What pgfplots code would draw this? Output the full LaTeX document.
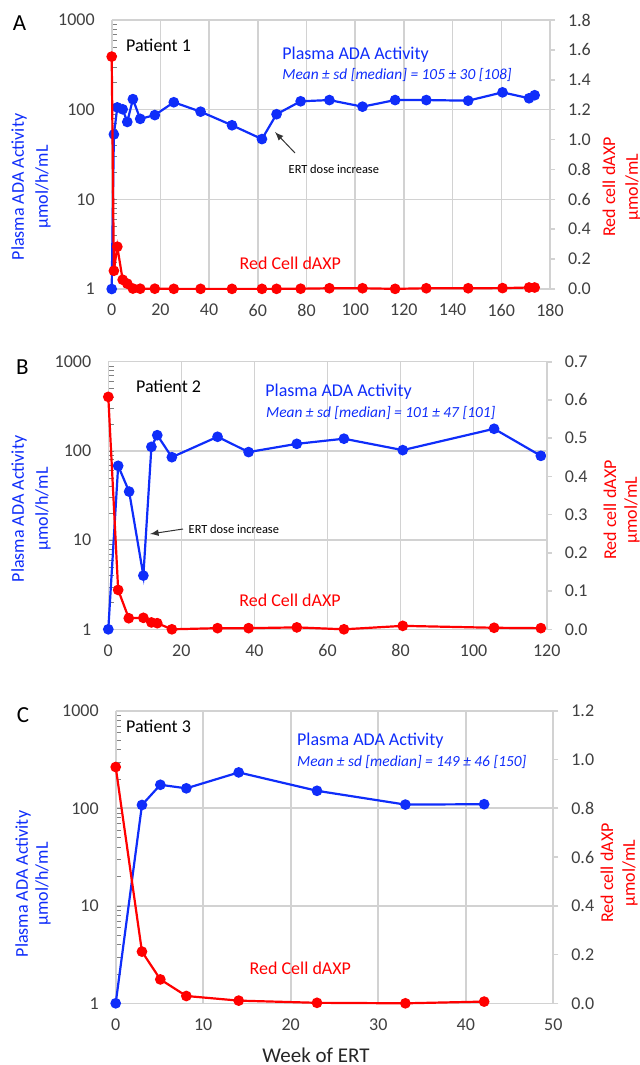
\documentclass[border=0pt]{standalone}
\usepackage{pgfplots}
\pgfplotsset{compat=1.18}
\usepackage{fontspec}
\setmainfont{Carlito}
\definecolor{adablue}{RGB}{15,45,250}
\definecolor{dred}{RGB}{255,0,0}
\definecolor{gridgray}{RGB}{210,210,210}
\definecolor{ticktext}{RGB}{64,64,64}

\pgfkeys{/pgf/number format/assume math mode=true}
\pgfplotsset{
  myCommon/.style={
    scale only axis, clip=false,
    tick label style={text=ticktext, font=\fontsize{9}{11}\selectfont},
  },
  myLeft/.style={myCommon,
    ymin=1, ymax=1000,
    ytick={1,10,100,1000}, yticklabels={1,10,100,1000},
    xmajorgrids, ymajorgrids,
    major grid style={gridgray, line width=0.8pt},
    axis x line*=bottom, axis y line*=left,
    axis line style={gridgray, line width=0.8pt, -},
    major tick length=0pt,
    xticklabel style={yshift=-4pt}, yticklabel style={xshift=-5pt},
  },
  myRight/.style={myCommon,
    axis y line*=right, axis x line=none, xtick=\empty,
    axis line style={gridgray, line width=0.8pt, -},
    ytick style={gridgray, line width=0.8pt},
    tick align=outside, major tick length=2.5pt,
    yticklabel style={xshift=3pt},
    y tick label style={/pgf/number format/.cd, fixed, fixed zerofill, precision=1},
  },
  myBlue/.style={adablue, line width=1.1pt, mark=*, mark size=2.1pt, mark options={solid, fill=adablue, draw=adablue}},
  myRed/.style={dred, line width=1.1pt, mark=*, mark size=2.1pt, mark options={solid, fill=dred, draw=dred}},
}

\begin{document}
\begin{tikzpicture}
\path[use as bounding box] (0,0) rectangle (320pt,-532.5pt);

% ---------- Panel A
\begin{axis}[ymode=log, myLeft, anchor=south west, at={(55.85pt,-144.5pt)}, width=219.15pt, height=134.5pt,
  xmin=0, xmax=180, xtick={0,20,...,180}]
\addplot[myBlue] coordinates {(0,1) (0.9,53) (2.3,106) (4.5,101) (6.4,73) (8.7,131) (11.7,79) (17.7,87) (25.5,121) (36.5,95) (49.4,67) (61.7,47) (67.7,89) (77.6,124) (89.4,128) (103,108) (116.4,128) (129.2,128) (146.4,126) (160.5,156) (171.4,134) (173.7,145)};
\end{axis}
\begin{axis}[myRight, anchor=south west, at={(55.85pt,-144.5pt)}, width=219.15pt, height=134.5pt,
  xmin=0, xmax=180, ymin=0, ymax=1.8, ytick={0,0.2,0.4,0.6,0.8,1.0,1.2,1.4,1.6,1.8}]
\addplot[myRed] coordinates {(0,1.555) (0.9,0.122) (2.3,0.283) (4.5,0.062) (6.4,0.036) (8.7,0.003) (11.7,0.002) (17.7,0.002) (25.5,0.001) (36.5,0.001) (49.4,0.001) (61.7,0.001) (67.7,0.001) (77.6,0.002) (89.4,0.005) (103,0.005) (116.4,0.001) (129.2,0.005) (146.4,0.005) (160.5,0.006) (171.4,0.01) (173.7,0.01)};
\end{axis}

% ---------- Panel B
\begin{axis}[ymode=log, myLeft, anchor=south west, at={(54.15pt,-314.65pt)}, width=219.2pt, height=133.8pt,
  xmin=0, xmax=120, xtick={0,20,...,120}]
\addplot[myBlue] coordinates {(0,1) (2.7,68) (5.7,35) (9.6,4.0) (11.8,111) (13.4,150) (17.4,85) (29.9,144) (38.4,97) (51.6,120) (64.5,137) (80.6,102) (105.6,177) (118.4,88)};
\end{axis}
\begin{axis}[myRight, anchor=south west, at={(54.15pt,-314.65pt)}, width=219.2pt, height=133.8pt,
  xmin=0, xmax=120, ymin=0, ymax=0.7, ytick={0,0.1,0.2,0.3,0.4,0.5,0.6,0.7}]
\addplot[myRed] coordinates {(0,0.608) (2.7,0.103) (5.6,0.029) (9.6,0.030) (11.8,0.018) (13.4,0.016) (17.4,0.0) (29.9,0.003) (38.4,0.003) (51.6,0.005) (64.5,0.0) (80.6,0.009) (105.6,0.004) (118.4,0.003)};
\end{axis}

% ---------- Panel C
\begin{axis}[ymode=log, myLeft, anchor=south west, at={(57.85pt,-501.65pt)}, width=218.8pt, height=146.3pt,
  xmin=0, xmax=50, xtick={0,10,...,50}]
\addplot[myBlue] coordinates {(0,1) (3,108) (5.1,174) (8.07,160) (14.05,233) (23,151) (33.1,109) (42.1,110)};
\end{axis}
\begin{axis}[myRight, anchor=south west, at={(57.85pt,-501.65pt)}, width=218.8pt, height=146.3pt,
  xmin=0, xmax=50, ymin=0, ymax=1.2, ytick={0,0.2,0.4,0.6,0.8,1.0,1.2}]
\addplot[myRed] coordinates {(0,0.969) (3,0.212) (5.1,0.098) (8.07,0.030) (14.05,0.011) (23,0.002) (33.1,0.0) (42.1,0.007)};
\end{axis}

% ---------- text, in pixel units of the reference
\begin{scope}[x=0.5pt, y=-0.5pt]
\tikzset{
  big/.style={font=\fontsize{11.5}{13}\selectfont},
  nine/.style={font=\fontsize{9}{11}\selectfont, inner sep=0pt},
  mean/.style={font=\fontsize{7.7}{9}\selectfont\itshape, text=adablue, anchor=west, inner sep=0pt},
  small/.style={font=\fontsize{6.2}{7}\selectfont, inner sep=0pt},
}
% panel letters
\node[big] at (19.5,23.3) {A};
\node[big] at (22.5,366.7) {B};
\node[big] at (23,715) {C};
% patients
\node[nine, anchor=west] at (125.7,45) {Patient 1};
\node[nine, anchor=west] at (135.7,386) {Patient 2};
\node[nine, anchor=west] at (125.7,726.7) {Patient 3};
% plasma ADA titles
\node[nine, anchor=west, text=adablue] at (282,55) {Plasma ADA Activity};
\node[mean] at (282,75) {Mean ± sd [median] = 105 ± 30 [108]};
\node[nine, anchor=west, text=adablue] at (265,392) {Plasma ADA Activity};
\node[mean] at (265.7,413) {Mean ± sd [median] = 101 ± 47 [101]};
\node[nine, anchor=west, text=adablue] at (296.7,740.7) {Plasma ADA Activity};
\node[mean] at (296.7,761.7) {Mean ± sd [median] = 149 ± 46 [150]};
% red cell labels
\node[nine, anchor=west, text=dred] at (239.3,263.3) {Red Cell dAXP};
\node[nine, anchor=west, text=dred] at (239,600) {Red Cell dAXP};
\node[nine, anchor=west, text=dred] at (249.3,968.3) {Red Cell dAXP};
% dose increase annotations
\node[small, anchor=west] at (288.3,169) {ERT dose increase};
\draw[-latex, black!80, line width=0.5pt] (295,153) -- (275,132);
\node[small, anchor=west] at (188.3,529.3) {ERT dose increase};
\draw[-latex, black!80, line width=0.5pt] (183,529) -- (150,534);
% left axis titles
\node[nine, rotate=90, text=adablue] at (19,187) {Plasma ADA Activity};
\node[nine, rotate=90, text=adablue] at (43,187) {µmol/h/mL};
\node[nine, rotate=90, text=adablue] at (19,509) {Plasma ADA Activity};
\node[nine, rotate=90, text=adablue] at (43,509) {µmol/h/mL};
\node[nine, rotate=90, text=adablue] at (23,884) {Plasma ADA Activity};
\node[nine, rotate=90, text=adablue] at (43,884) {µmol/h/mL};
% right axis titles
\node[nine, rotate=90, text=dred] at (609,187) {Red cell dAXP};
\node[nine, rotate=90, text=dred] at (633,187) {µmol/mL};
\node[nine, rotate=90, text=dred] at (610,510) {Red cell dAXP};
\node[nine, rotate=90, text=dred] at (632,510) {µmol/mL};
\node[nine, rotate=90, text=dred] at (607,873) {Red cell dAXP};
\node[nine, rotate=90, text=dred] at (630,873) {µmol/mL};
% x title
\node[font=\fontsize{10.5}{12}\selectfont, text=black!85, inner sep=0pt] at (316,1055) {Week of ERT};
\end{scope}
\end{tikzpicture}
\end{document}
